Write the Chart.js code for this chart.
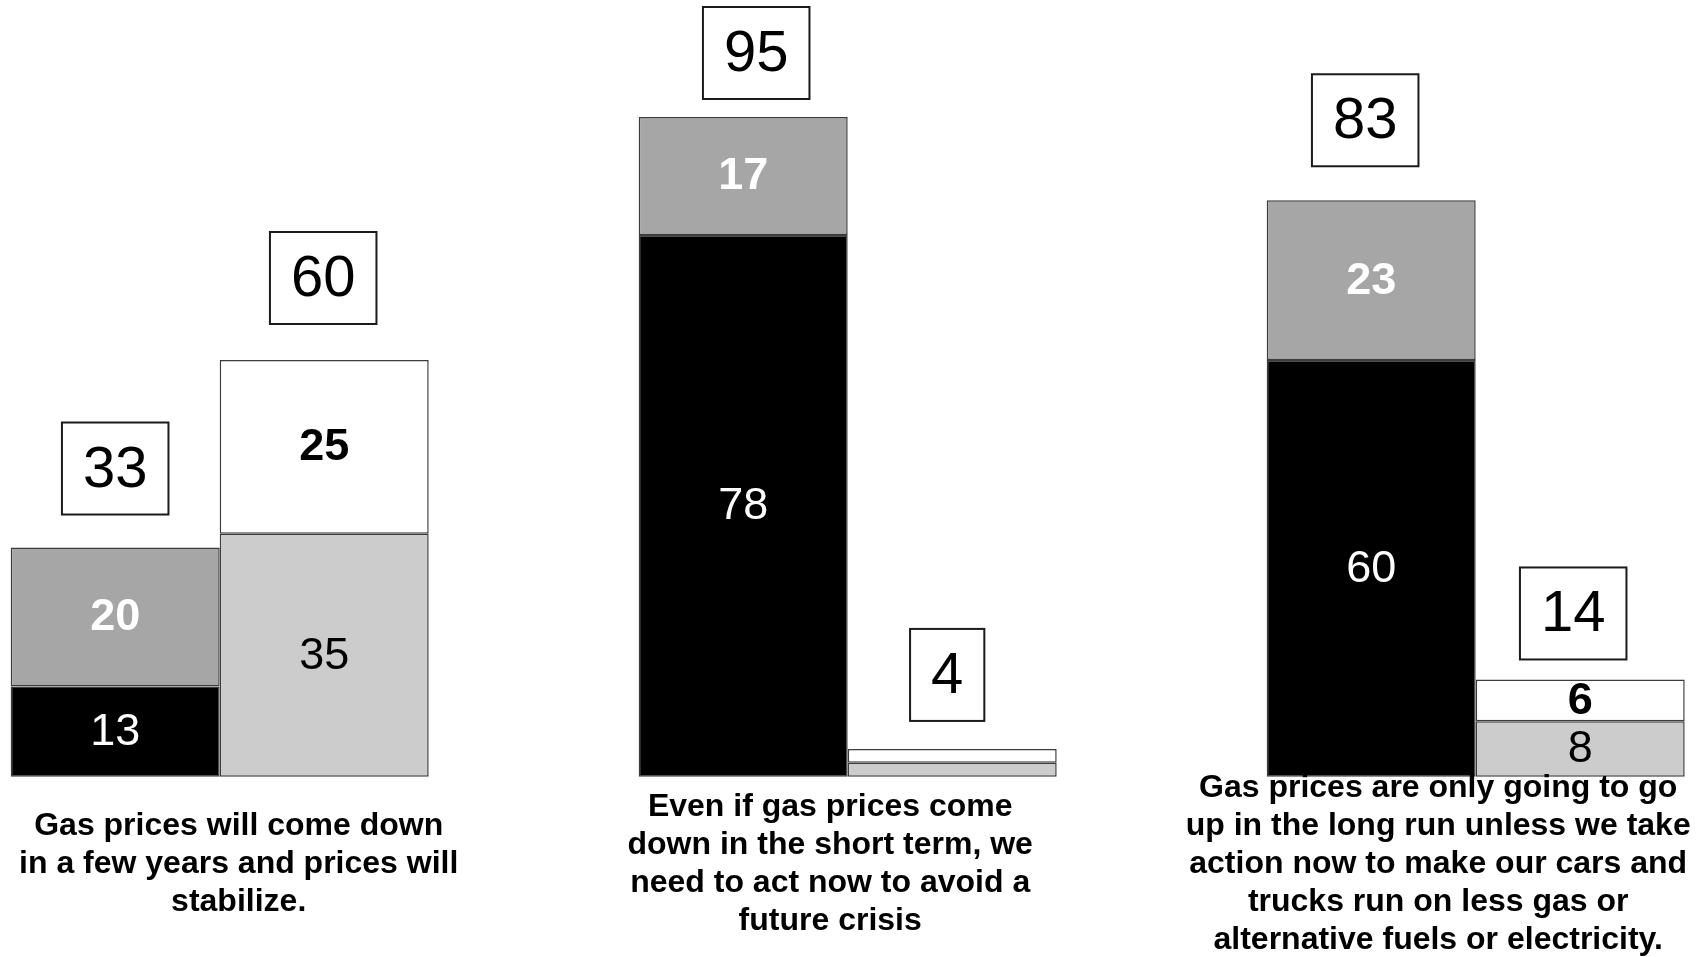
<!DOCTYPE html>
<html>
<head>
<meta charset="utf-8">
<script src="https://cdn.jsdelivr.net/npm/chart.js@4.4.1/dist/chart.umd.min.js"></script>
<style>
html,body{margin:0;padding:0;background:#ffffff;}
#wrap{width:1705px;height:957px;position:relative;}
</style>
</head>
<body>
<div id="wrap"><canvas id="c" width="1705" height="957"></canvas></div>
<script>
// ---- data ----
const categories = [
  ["Gas prices will come down", "in a few years and prices will", "stabilize."],
  ["Even if gas prices come", "down in the short term, we", "need to act now to avoid a", "future crisis"],
  ["Gas prices are only going to go", "up in the long run unless we take", "action now to make our cars and", "trucks run on less gas or", "alternative fuels or electricity."]
];
const leftBottom  = [13, 78, 60];  // black segment
const leftTop     = [20, 17, 23];  // dark gray segment
const rightBottom = [35, 2, 8];    // light gray segment
const rightTop    = [25, 2, 6];    // white segment
const leftTotals  = [33, 95, 83];
const rightTotals = [60, 4, 14];
const yRange = [0, 100];

// ---- layout / style (not data) ----
const FONT = '"Liberation Sans", Arial, Helvetica, sans-serif';
const labelNudge = [19, -17.5, -37.5];
const leftBoxGap = [33, 30, 34], rightBoxGap = [36, 28, 20];
const leftBoxNudge = [0, 13, -6], rightBoxNudge = [-1, -5, -7];
const minInnerLabel = 5;

const boxPlugin = {
  id: 'overlayText',
  afterDatasetsDraw(chart) {
    const ctx = chart.ctx;
    ctx.save();
    ctx.textAlign = 'center';
    ctx.textBaseline = 'middle';
    // inner segment labels
    chart.data.datasets.forEach((ds, di) => {
      const meta = chart.getDatasetMeta(di);
      meta.data.forEach((el, i) => {
        const v = ds.data[i];
        if (v < minInnerLabel) return;
        const p = el.getProps(['x', 'y', 'base'], true);
        ctx.font = ds.labelWeight + ' 45px ' + FONT;
        ctx.fillStyle = ds.labelColor;
        ctx.fillText(String(v), p.x, (p.y + p.base) / 2 + 1);
      });
    });
    // total boxes on top of each stack
    const tops = [
      {di: 1, totals: leftTotals, gap: leftBoxGap, nudge: leftBoxNudge},
      {di: 3, totals: rightTotals, gap: rightBoxGap, nudge: rightBoxNudge}
    ];
    ctx.font = 'normal 58px ' + FONT;
    tops.forEach(t => {
      const meta = chart.getDatasetMeta(t.di);
      meta.data.forEach((el, i) => {
        const p = el.getProps(['x', 'y'], true);
        const txt = String(t.totals[i]);
        const w = ctx.measureText(txt).width + 42;
        const h = 92;
        const cx = p.x + t.nudge[i];
        let top = p.y - t.gap[i] - h;
        if (top < 7) top = 7;
        ctx.fillStyle = '#ffffff';
        ctx.fillRect(cx - w / 2, top, w, h);
        ctx.lineWidth = 2;
        ctx.strokeStyle = '#1a1a1a';
        ctx.strokeRect(cx - w / 2, top, w, h);
        ctx.fillStyle = '#000000';
        ctx.fillText(txt, cx, top + h / 2 + 2);
      });
    });
    // category statements under each group
    const xs = chart.scales.x;
    const lineH = 38;
    const centerY = chart.chartArea.bottom + 87.5;
    ctx.font = 'bold 32px ' + FONT;
    ctx.fillStyle = '#000000';
    categories.forEach((lines, i) => {
      const cx = xs.getPixelForValue(i) + labelNudge[i];
      const y0 = centerY - (lines.length - 1) * lineH / 2;
      lines.forEach((ln, k) => ctx.fillText(ln, cx, y0 + k * lineH));
    });
    ctx.restore();
  }
};

const common = {borderColor: '#3c3c3c', borderWidth: 1.5, borderSkipped: false, clip: false};

new Chart(document.getElementById('c'), {
  type: 'bar',
  data: {
    labels: categories.map(c => c.join(' ')),
    datasets: [
      Object.assign({label: 'left-bottom', data: leftBottom, stack: 'L', backgroundColor: '#000000', labelColor: '#ffffff', labelWeight: 'normal'}, common),
      Object.assign({label: 'left-top', data: leftTop, stack: 'L', backgroundColor: '#a6a6a6', labelColor: '#ffffff', labelWeight: 'bold'}, common),
      Object.assign({label: 'right-bottom', data: rightBottom, stack: 'R', backgroundColor: '#cccccc', labelColor: '#000000', labelWeight: 'normal'}, common),
      Object.assign({label: 'right-top', data: rightTop, stack: 'R', backgroundColor: '#ffffff', labelColor: '#000000', labelWeight: 'bold'}, common)
    ]
  },
  options: {
    responsive: false,
    animation: false,
    events: [],
    categoryPercentage: 0.6656,
    barPercentage: 1,
    layout: {padding: {left: 219.7, right: 229.3, top: 82.2, bottom: 180.3}},
    plugins: {legend: {display: false}, tooltip: {enabled: false}, title: {display: false}},
    scales: {
      x: {type: 'category', offset: false, stacked: true, display: false, grid: {display: false}},
      y: {stacked: true, min: yRange[0], max: yRange[1], display: false, grid: {display: false}}
    }
  },
  plugins: [boxPlugin]
});
</script>
</body>
</html>
